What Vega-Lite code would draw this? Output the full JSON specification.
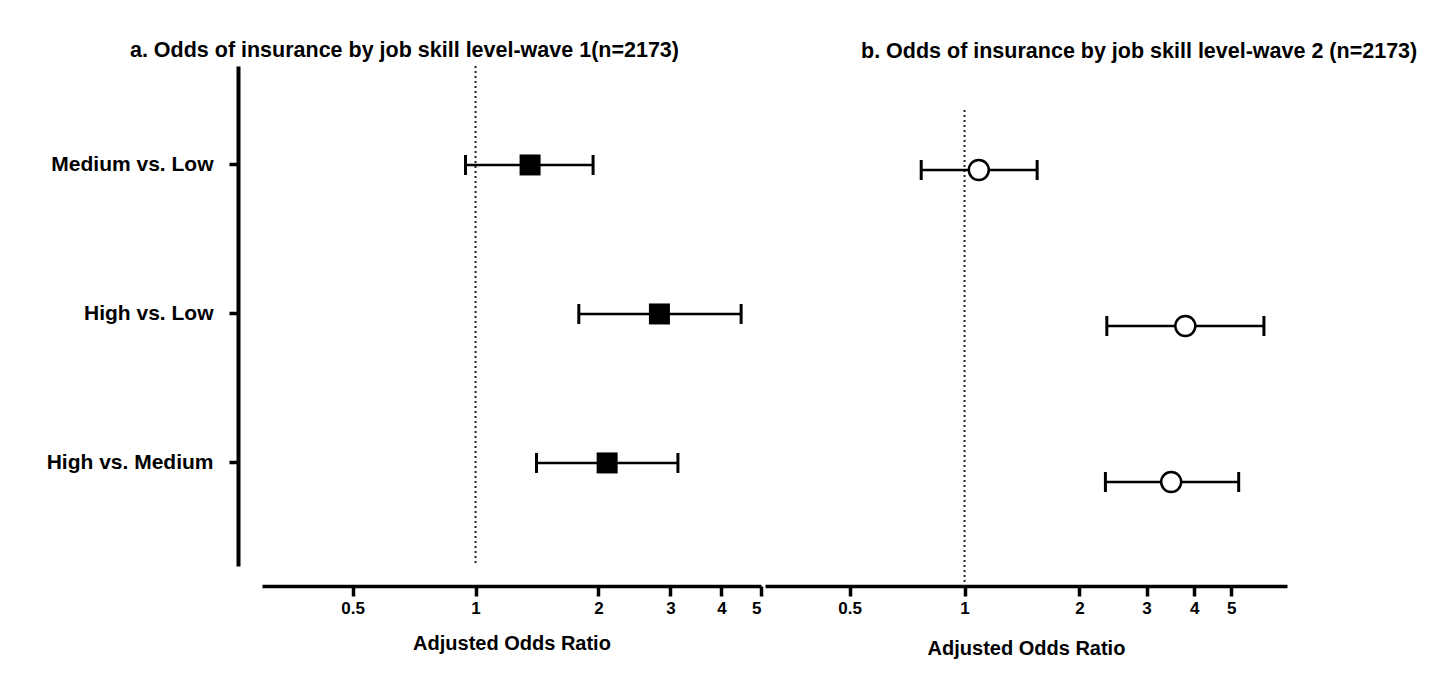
{
  "$schema": "https://vega.github.io/schema/vega-lite/v6.json",
  "background": "white",
  "padding": {"left": 46, "top": 39, "right": 5, "bottom": 5},
  "bounds": "full",
  "spacing": 2,
  "config": {
    "font": "Liberation Sans",
    "view": {"stroke": null},
    "axis": {
      "grid": false,
      "labelFont": "Liberation Sans",
      "labelFontWeight": "bold",
      "labelColor": "black",
      "titleFont": "Liberation Sans",
      "titleFontWeight": "bold",
      "titleColor": "black",
      "domainColor": "black",
      "tickColor": "black",
      "domainWidth": 3.5,
      "tickWidth": 3.5
    },
    "title": {"font": "Liberation Sans", "fontWeight": "bold", "color": "black", "fontSize": 21.5}
  },
  "datasets": {
    "estimates": [
      {"wave": 1, "comparison": "Medium vs. Low", "or": 1.36, "lo": 0.945, "hi": 1.94},
      {"wave": 1, "comparison": "High vs. Low", "or": 2.82, "lo": 1.79, "hi": 4.47},
      {"wave": 1, "comparison": "High vs. Medium", "or": 2.10, "lo": 1.41, "hi": 3.13},
      {"wave": 2, "comparison": "Medium vs. Low", "or": 1.09, "lo": 0.77, "hi": 1.55},
      {"wave": 2, "comparison": "High vs. Low", "or": 3.79, "lo": 2.36, "hi": 6.09},
      {"wave": 2, "comparison": "High vs. Medium", "or": 3.48, "lo": 2.34, "hi": 5.23}
    ],
    "reference": [{"ref": 1}]
  },
  "hconcat": [
    {
      "title": {"text": "a. Odds of insurance by job skill level-wave 1(n=2173)", "anchor": "middle", "frame": "bounds", "offset": 4},
      "width": 499,
      "height": 500,
      "layer": [
        {
          "data": {"name": "reference"},
          "mark": {"type": "rule", "strokeDash": [2, 3], "strokeWidth": 2, "color": "#222"},
          "encoding": {
            "x": {"field": "ref", "type": "quantitative", "scale": {"type": "log", "domain": [0.3, 5], "nice": false}, "axis": {"values": [0.5, 1, 2, 3, 4, 5], "format": "~g", "offset": 20, "tickSize": 10, "labelFontSize": 17, "labelPadding": 4, "title": "Adjusted Odds Ratio", "titleFontSize": 20, "titlePadding": 17}}
          }
        },
        {
          "data": {"name": "estimates"},
          "transform": [{"filter": "datum.wave == 1"}],
          "mark": {"type": "rule", "strokeWidth": 2.5, "color": "black"},
          "encoding": {
            "x": {"field": "lo", "type": "quantitative", "title": "Adjusted Odds Ratio"},
            "x2": {"field": "hi"},
            "y": {"field": "comparison", "type": "nominal", "scale": {"type": "band", "domain": ["Medium vs. Low", "High vs. Low", "High vs. Medium"], "paddingInner": 0.5, "paddingOuter": 0.428, "align": 0.484}, "axis": {"title": null, "offset": 24, "tickSize": 9, "labelFontSize": 21, "labelPadding": 16, "domainWidth": 4}}
          }
        },
        {
          "data": {"name": "estimates"},
          "transform": [{"filter": "datum.wave == 1"}],
          "mark": {"type": "tick", "size": 20, "thickness": 3, "color": "black", "opacity": 1, "orient": "vertical"},
          "encoding": {
            "x": {"field": "lo", "type": "quantitative", "title": "Adjusted Odds Ratio"},
            "y": {"field": "comparison", "type": "nominal"}
          }
        },
        {
          "data": {"name": "estimates"},
          "transform": [{"filter": "datum.wave == 1"}],
          "mark": {"type": "tick", "size": 20, "thickness": 3, "color": "black", "opacity": 1, "orient": "vertical"},
          "encoding": {
            "x": {"field": "hi", "type": "quantitative", "title": "Adjusted Odds Ratio"},
            "y": {"field": "comparison", "type": "nominal"}
          }
        },
        {
          "data": {"name": "estimates"},
          "transform": [{"filter": "datum.wave == 1"}],
          "mark": {"type": "point", "shape": "square", "filled": true, "size": 441, "color": "black", "opacity": 1},
          "encoding": {
            "x": {"field": "or", "type": "quantitative", "title": "Adjusted Odds Ratio"},
            "y": {"field": "comparison", "type": "nominal"}
          }
        }
      ]
    },
    {
      "title": {"text": "b. Odds of insurance by job skill level-wave 2 (n=2173)", "anchor": "start", "frame": "group", "dx": 96, "offset": 4},
      "width": 522,
      "height": 520,
      "layer": [
        {
          "data": {"name": "reference"},
          "mark": {"type": "rule", "strokeDash": [2, 3], "strokeWidth": 2, "color": "#222"},
          "encoding": {
            "x": {"field": "ref", "type": "quantitative", "scale": {"type": "log", "domain": [0.3, 7], "nice": false}, "axis": {"values": [0.5, 1, 2, 3, 4, 5], "format": "~g", "offset": 0, "tickSize": 10, "labelFontSize": 17, "labelPadding": 4, "title": "Adjusted Odds Ratio", "titleFontSize": 20, "titlePadding": 22}},
            "y": {"datum": "Medium vs. Low", "type": "nominal", "bandPosition": 0, "scale": {"type": "band", "domain": ["Medium vs. Low", "High vs. Low", "High vs. Medium"], "paddingInner": 0.2308, "paddingOuter": 0.282}, "axis": null},
            "y2": {"value": "height"}
          }
        },
        {
          "data": {"name": "estimates"},
          "transform": [{"filter": "datum.wave == 2"}],
          "mark": {"type": "rule", "strokeWidth": 2.5, "color": "black"},
          "encoding": {
            "x": {"field": "lo", "type": "quantitative", "title": "Adjusted Odds Ratio"},
            "x2": {"field": "hi"},
            "y": {"field": "comparison", "type": "nominal", "axis": null}
          }
        },
        {
          "data": {"name": "estimates"},
          "transform": [{"filter": "datum.wave == 2"}],
          "mark": {"type": "tick", "size": 20, "thickness": 3, "color": "black", "opacity": 1, "orient": "vertical"},
          "encoding": {
            "x": {"field": "lo", "type": "quantitative", "title": "Adjusted Odds Ratio"},
            "y": {"field": "comparison", "type": "nominal", "axis": null}
          }
        },
        {
          "data": {"name": "estimates"},
          "transform": [{"filter": "datum.wave == 2"}],
          "mark": {"type": "tick", "size": 20, "thickness": 3, "color": "black", "opacity": 1, "orient": "vertical"},
          "encoding": {
            "x": {"field": "hi", "type": "quantitative", "title": "Adjusted Odds Ratio"},
            "y": {"field": "comparison", "type": "nominal", "axis": null}
          }
        },
        {
          "data": {"name": "estimates"},
          "transform": [{"filter": "datum.wave == 2"}],
          "mark": {"type": "point", "shape": "circle", "filled": false, "fill": "white", "fillOpacity": 1, "stroke": "black", "strokeWidth": 2.5, "size": 400, "opacity": 1},
          "encoding": {
            "x": {"field": "or", "type": "quantitative", "title": "Adjusted Odds Ratio"},
            "y": {"field": "comparison", "type": "nominal", "axis": null}
          }
        }
      ]
    }
  ]
}
